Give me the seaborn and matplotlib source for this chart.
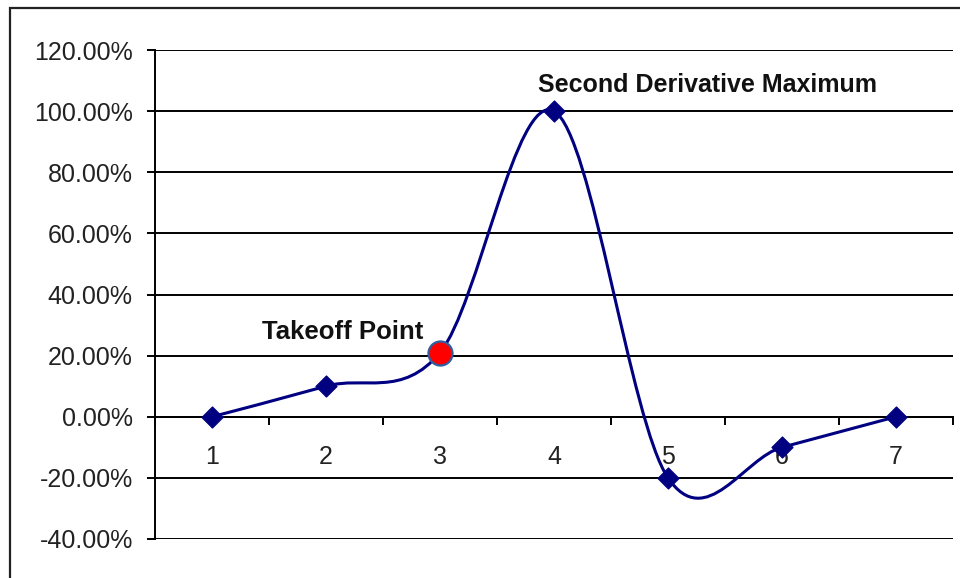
import numpy as np
import pandas as pd
import matplotlib
matplotlib.use("Agg")
import matplotlib.pyplot as plt
from matplotlib.path import Path
from matplotlib.patches import PathPatch, Rectangle
from matplotlib.ticker import FuncFormatter, FixedLocator
import seaborn as sns

# === données ===
categories = [1, 2, 3, 4, 5, 6, 7]
values = [0.0, 0.10, 0.21, 1.00, -0.20, -0.10, 0.0]
takeoff_idx = 2
peak_idx = 3
y_ticks = [-0.4, -0.2, 0.0, 0.2, 0.4, 0.6, 0.8, 1.0, 1.2]

df = pd.DataFrame({"x": categories, "y": values})

sns.set_style("white")
plt.rcParams["font.family"] = ["Liberation Sans", "DejaVu Sans"]

navy = "#000080"
fig = plt.figure(figsize=(9.6, 5.78), dpi=100)
ax = fig.add_axes([155 / 960, 1 - 539 / 578, (953 - 155) / 960, (539 - 50) / 578])

# cadre extérieur (style Excel)
fig.patches.append(Rectangle((10 / 960, -0.05), 1.2, 1 - 8 / 578 + 0.05,
                             transform=fig.transFigure, fill=False,
                             edgecolor="#222222", linewidth=1.6))

# courbe lissée façon Excel : Bézier cubique passant par les points
pts = df[["x", "y"]].to_numpy()
n = len(pts)
verts = [tuple(pts[0])]
codes = [Path.MOVETO]
for i in range(n - 1):
    p_prev = pts[i - 1] if i > 0 else pts[i]
    p0, p1 = pts[i], pts[i + 1]
    p_next = pts[i + 2] if i + 2 < n else pts[i + 1]
    c1 = p0 + (p1 - p_prev) / 6
    c2 = p1 - (p_next - p0) / 6
    verts += [tuple(c1), tuple(c2), tuple(p1)]
    codes += [Path.CURVE4] * 3
ax.add_patch(PathPatch(Path(verts, codes), facecolor="none", edgecolor=navy,
                       linewidth=2.2, zorder=3))

others = df.drop(index=takeoff_idx)
sns.scatterplot(data=others, x="x", y="y", marker="D", s=115, color=navy,
                edgecolor=navy, ax=ax, zorder=4)
sns.scatterplot(data=df.iloc[[takeoff_idx]], x="x", y="y", marker="o", s=300,
                color="#FF0000", edgecolor="#2E5FA0", linewidth=1.6, ax=ax, zorder=5)

# annotations
ax.text(2.85, values[takeoff_idx] + 0.066, "Takeoff Point", ha="right", va="center",
        fontsize=18.5, fontweight="bold", color="#111111")
ax.text(3.86, values[peak_idx] + 0.086, "Second Derivative Maximum", ha="left", va="center",
        fontsize=18, fontweight="bold", color="#111111")

# axes
ax.set_xlim(0.5, 7.5)
ax.set_ylim(-0.4, 1.2)
ax.set_yticks(y_ticks)
ax.yaxis.set_major_formatter(FuncFormatter(lambda v, p: f"{v * 100:.2f}%"))
ax.yaxis.grid(True, color="black", linewidth=1.4)
ax.set_axisbelow(True)

ax.spines["bottom"].set_position(("data", 0))
for s in ["top", "right"]:
    ax.spines[s].set_visible(False)
ax.spines["left"].set_color("black")
ax.spines["left"].set_linewidth(1.4)
ax.spines["bottom"].set_color("black")
ax.spines["bottom"].set_linewidth(1.4)

ax.xaxis.set_major_locator(FixedLocator(np.arange(0.5, 8.0, 1.0)))
ax.xaxis.set_minor_locator(FixedLocator(categories))
ax.set_xticklabels([])
ax.set_xticklabels([str(c) for c in categories], minor=True)
ax.tick_params(axis="x", which="major", direction="out", length=6, width=1.4,
               color="black", bottom=True)
ax.tick_params(axis="x", which="minor", length=0, pad=20, labelsize=18,
               labelcolor="#222222", bottom=True)
ax.tick_params(axis="y", direction="out", length=6, width=1.4, color="black",
               pad=10, labelsize=18, labelcolor="#222222", left=True)
ax.set_xlabel("")
ax.set_ylabel("")

fig.savefig("out.png", dpi=100)
